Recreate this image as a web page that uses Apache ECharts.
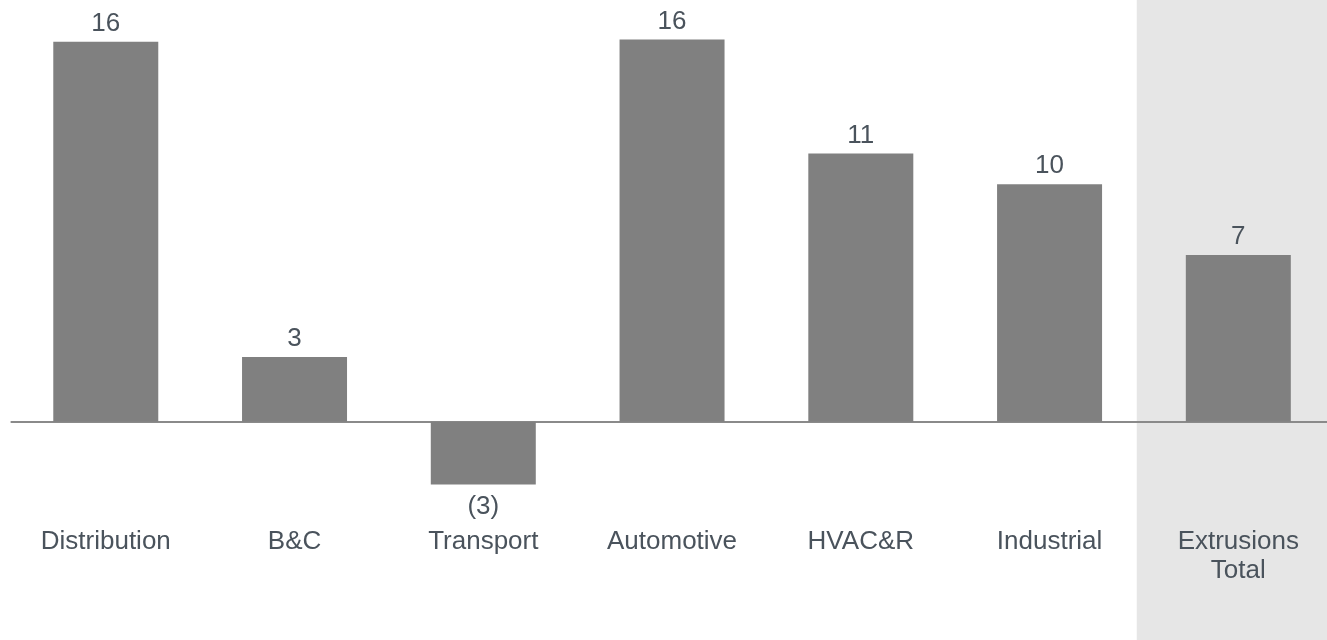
<!DOCTYPE html>
<html>
<head>
<meta charset="utf-8">
<script src="https://cdn.jsdelivr.net/npm/echarts@6/dist/echarts.min.js"></script>
<style>
	html, body { margin: 0; padding: 0; background: #fff; }
	#main { width: 1327px; height: 640px; }
</style>
</head>
<body>
<div id="main"></div>
<script>
// 类目与数值
var categories = ['Distribution', 'B&C', 'Transport', 'Automotive', 'HVAC&R', 'Industrial', 'Extrusions\nTotal'];
var values = [16.0, 2.73, -2.65, 16.1, 11.3, 10.0, 7.02];

var textColor = '#4a535c';
var fontFamily = '"Liberation Sans", Arial, sans-serif';

var myChart = echarts.init(document.getElementById('main'));

// 负值标签稍远一点
var barData = values.map(function(v) {
	return v < 0 ? { value : v, label : { distance : 9 } } : v;
});

myChart.setOption({
	animation : false,
	grid : {
		left : 11.4,
		top : 18.1,
		width : 1321.3,
		height : 522.3,
		containLabel : false,
		outerBoundsMode : 'none'
	},
	xAxis : {
		type : 'category',
		data : categories,
		axisLine : {
			onZero : true,
			lineStyle : { color : '#8a8a8a', width : 2 }
		},
		axisTick : { show : false },
		axisLabel : {
			margin : -13,
			color : textColor,
			fontSize : 26,
			lineHeight : 29,
			fontFamily : fontFamily,
			interval : 0
		}
	},
	yAxis : {
		type : 'value',
		min : -5,
		max : 17,
		interval : 1,
		show : false,
		splitLine : { show : false }
	},
	series : [ {
		type : 'bar',
		data : barData,
		barWidth : 105,
		itemStyle : { color : '#808080' },
		label : {
			show : true,
			position : 'outside',
			distance : 5,
			color : textColor,
			fontSize : 26,
			fontFamily : fontFamily,
			formatter : function(p) {
				var v = Math.round(p.value);
				return v < 0 ? '(' + Math.abs(v) + ')' : String(v);
			}
		}
	} ]
});

// 灰色背景块（最后一类）
var n = categories.length;
var cx = myChart.convertToPixel({ xAxisIndex : 0 }, categories[n - 1]);
var step = cx - myChart.convertToPixel({ xAxisIndex : 0 }, categories[n - 2]);
var x0 = cx - step * 0.538;
myChart.setOption({
	graphic : [ {
		type : 'rect',
		z : -10,
		silent : true,
		shape : { x : x0, y : 0, width : 1327 - x0, height : 640 },
		style : { fill : '#e6e6e6' }
	} ]
});
</script>
</body>
</html>
